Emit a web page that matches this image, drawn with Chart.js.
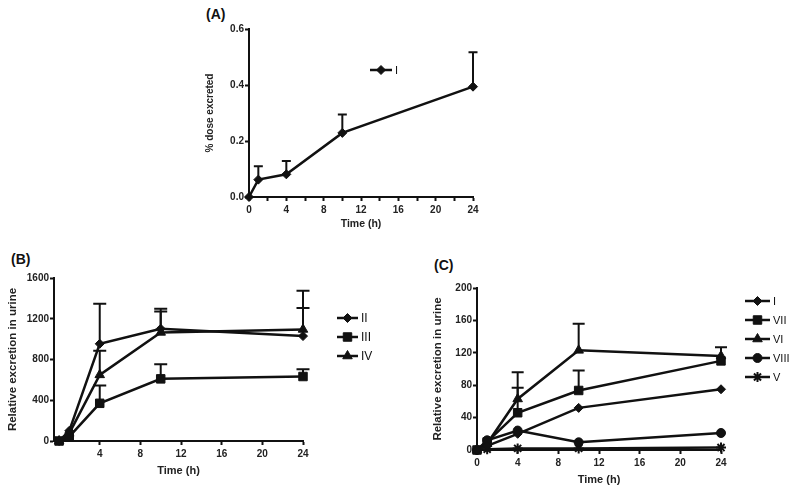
<!DOCTYPE html>
<html>
<head>
<meta charset="utf-8">
<script src="https://cdn.jsdelivr.net/npm/chart.js@4.4.1/dist/chart.umd.min.js"></script>
<style>
  body { margin: 0; background: #fff; width: 800px; height: 494px; position: relative; overflow: hidden;
         font-family: "Liberation Sans", Arial, sans-serif; }
  .box { position: absolute; }
  .tag { position: absolute; font-weight: bold; font-size: 14px; line-height: 16px; color: #111; }
</style>
</head>
<body>
<div class="tag" style="left:206px; top:6px">(A)</div>
<div class="tag" style="left:11px; top:251px">(B)</div>
<div class="tag" style="left:434px; top:257px">(C)</div>

<div class="box" style="left:150px; top:0px"><canvas id="chartA" width="360" height="240"></canvas></div>
<div class="box" style="left:0px; top:240px"><canvas id="chartB" width="400" height="254"></canvas></div>
<div class="box" style="left:400px; top:240px"><canvas id="chartC" width="400" height="254"></canvas></div>

<script>
/*==== data ====*/
const timeH = [0, 1, 4, 10, 24];

// (A) % dose excreted
const doseI    = [0, 0.062, 0.081, 0.229, 0.394];
const doseIErr = [0, 0.048, 0.048, 0.066, 0.123];

// (B) relative excretion in urine
const urineII     = [0, 100, 954, 1102, 1030];
const urineIIErr  = [0, 0, 394, 196, 275];
const urineIII    = [0, 43, 370, 610, 633];
const urineIIIErr = [0, 0, 174, 144, 72];
const urineIV     = [0, 75, 649, 1066, 1095];
const urineIVErr  = [0, 0, 236, 206, 380];

// (C) relative excretion in urine
const urineI       = [0, 5, 20, 52, 75];
const urineVII     = [0, 10, 46, 73.5, 110];
const urineVIIErr  = [0, 0, 31, 24.5, 0];
const urineVI      = [0, 8, 63, 123, 116];
const urineVIErr   = [0, 0, 33, 33, 11];
const urineVIII    = [0, 12, 24, 9.5, 21];
const urineV       = [0, 1, 2, 2, 3];

const ink = '#111';
const FONT = '"Liberation Sans", Arial, sans-serif';

function toXY(ys) {
    return timeH.map((t, i) => ({ x: t, y: ys[i] }));
}

function series(label, ys, errs, style, radius) {
    return {
        label: label,
        data: toXY(ys),
        errors: errs,
        borderColor: ink,
        backgroundColor: ink,
        borderWidth: 2.5,
        pointStyle: style,
        pointRadius: radius,
        pointBorderWidth: style === 'star' ? 2 : 1,
        pointBackgroundColor: ink,
        pointBorderColor: ink,
        tension: 0,
        clip: false
    };
}

/*==== plugins ====*/
// one-sided (upper) error bars, GraphPad style
const errorBars = {
    id: 'errorBars',
    beforeDatasetsDraw(chart, args, opts) {
        const ctx = chart.ctx;
        const yScale = chart.scales.y;
        ctx.save();
        ctx.strokeStyle = ink;
        ctx.lineWidth = 2;
        chart.data.datasets.forEach((ds, di) => {
            if (!ds.errors) return;
            const meta = chart.getDatasetMeta(di);
            meta.data.forEach((pt, i) => {
                const e = ds.errors[i];
                if (!e) return;
                const yTop = yScale.getPixelForValue(ds.data[i].y + e);
                ctx.beginPath();
                ctx.moveTo(pt.x, pt.y);
                ctx.lineTo(pt.x, yTop);
                ctx.moveTo(pt.x - opts.cap, yTop);
                ctx.lineTo(pt.x + opts.cap, yTop);
                ctx.stroke();
            });
        });
        ctx.restore();
    }
};

// legend with a line through the marker
const lineLegend = {
    id: 'lineLegend',
    afterDraw(chart, args, opts) {
        const ctx = chart.ctx;
        ctx.save();
        chart.data.datasets.forEach((ds, i) => {
            const y = opts.y + i * opts.gap;
            ctx.strokeStyle = ink;
            ctx.fillStyle = ink;
            ctx.lineWidth = 2.5;
            ctx.beginPath();
            ctx.moveTo(opts.x, y);
            ctx.lineTo(opts.x + opts.len, y);
            ctx.stroke();
            if (Chart.helpers && Chart.helpers.drawPoint) {
                ctx.lineWidth = ds.pointBorderWidth;
                Chart.helpers.drawPoint(ctx, {
                    pointStyle: ds.pointStyle,
                    radius: ds.pointRadius,
                    rotation: 0,
                    borderWidth: ds.pointBorderWidth
                }, opts.x + opts.len / 2, y);
            }
            ctx.font = opts.font;
            ctx.textBaseline = 'middle';
            ctx.textAlign = 'left';
            ctx.fillText(ds.label, opts.x + opts.len + 3, y + 0.5);
        });
        ctx.restore();
    }
};

/*==== axes ====*/
function makeScales(o) {
    const tickFont = { family: FONT, size: 10, weight: 'bold' };
    return {
        x: {
            type: 'linear',
            min: o.xMin,
            max: 24,
            afterFit: s => { s.height = o.xH; },
            afterBuildTicks: s => { s.ticks = s.ticks.filter(t => t.value >= 0 && t.value % o.xStep === 0); },
            ticks: {
                stepSize: o.xStep, autoSkip: false, maxRotation: 0, padding: 3,
                color: '#222', font: tickFont,
                callback: v => (v % 4 === 0 ? v : '')
            },
            grid: { display: true, drawOnChartArea: false, drawTicks: true, tickLength: 4, tickWidth: 2, tickColor: ink },
            border: { display: true, width: 2, color: ink },
            title: { display: true, text: 'Time (h)', color: '#222', padding: 3,
                     font: { family: FONT, size: o.xTitleSize, weight: 'bold' } }
        },
        y: {
            type: 'linear',
            min: 0,
            max: o.yMax,
            afterFit: s => { s.width = o.yW; },
            ticks: {
                stepSize: o.yStep, padding: 1, color: '#222', font: tickFont,
                callback: o.yFmt
            },
            grid: { display: true, drawOnChartArea: false, drawTicks: true, tickLength: 4, tickWidth: 2, tickColor: ink },
            border: { display: true, width: 2, color: ink },
            title: { display: true, text: o.yTitle, color: '#222', padding: 2,
                     font: { family: FONT, size: o.yTitleSize, weight: 'bold' } }
        }
    };
}

function makeChart(id, datasets, scaleOpts, padding, cap, legendOpts) {
    return new Chart(document.querySelector('#' + id), {
        type: 'line',
        data: { datasets: datasets },
        options: {
            responsive: false,
            animation: false,
            layout: { padding: padding },
            scales: makeScales(scaleOpts),
            plugins: {
                legend: { display: false },
                tooltip: { enabled: false },
                errorBars: { cap: cap },
                lineLegend: legendOpts
            }
        },
        plugins: [errorBars, lineLegend]
    });
}

/*==== render ====*/
makeChart('chartA',
    [series('I', doseI, doseIErr, 'rectRot', 4.5)],
    { xMin: 0, xStep: 2, xH: 36, xTitleSize: 10.5, yMax: 0.6, yStep: 0.2, yW: 47,
      yFmt: v => v.toFixed(1), yTitle: '% dose excreted', yTitleSize: 10 },
    { left: 52, right: 37, top: 29, bottom: 7 },
    4.5,
    { x: 220, y: 70, gap: 19, len: 22, font: '11px ' + FONT });

makeChart('chartB',
    [series('II', urineII, urineIIErr, 'rectRot', 4.5),
     series('III', urineIII, urineIIIErr, 'rect', 6),
     series('IV', urineIV, urineIVErr, 'triangle', 5.5)],
    { xMin: -0.5, xStep: 4, xH: 40, xTitleSize: 11, yMax: 1600, yStep: 400, yW: 50,
      yFmt: v => v, yTitle: 'Relative excretion in urine', yTitleSize: 11.5 },
    { left: 4, right: 97, top: 38, bottom: 13 },
    6.5,
    { x: 337, y: 78, gap: 19, len: 21, font: '12px ' + FONT });

makeChart('chartC',
    [series('I', urineI, null, 'rectRot', 4.5),
     series('VII', urineVII, urineVIIErr, 'rect', 6),
     series('VI', urineVI, urineVIErr, 'triangle', 5.5),
     series('VIII', urineVIII, null, 'circle', 4.5),
     series('V', urineV, null, 'star', 5)],
    { xMin: 0, xStep: 4, xH: 40, xTitleSize: 11, yMax: 200, yStep: 40, yW: 48,
      yFmt: v => v, yTitle: 'Relative excretion in urine', yTitleSize: 11.5 },
    { left: 29, right: 79, top: 48, bottom: 4 },
    6,
    { x: 345, y: 61, gap: 19, len: 25, font: '11px ' + FONT });
</script>
</body>
</html>
